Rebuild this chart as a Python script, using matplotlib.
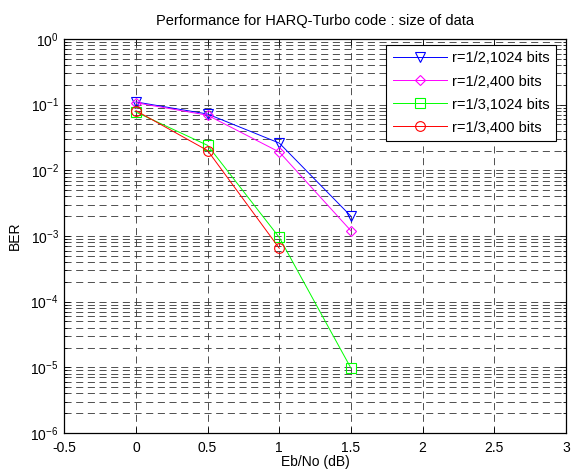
import math
import matplotlib
matplotlib.use("Agg")
import matplotlib.pyplot as plt
from matplotlib.ticker import LogLocator, NullFormatter, MultipleLocator, FuncFormatter

plt.rcParams['font.family'] = ['Liberation Sans', 'DejaVu Sans']
plt.rcParams['mathtext.fontset'] = 'custom'
plt.rcParams['mathtext.rm'] = 'Liberation Sans'
plt.rcParams['mathtext.it'] = 'Liberation Sans'

ebno = [0, 0.5, 1, 1.5]
ebno_red = [0, 0.5, 1]
ber_r12_1024 = [0.110, 0.072, 0.026, 0.0020]
ber_r12_400 = [0.107, 0.069, 0.019, 0.0012]
ber_r13_1024 = [0.077, 0.024, 0.00095, 0.0000097]
ber_r13_400 = [0.081, 0.020, 0.00065]
labels = ['r=1/2,1024 bits', 'r=1/2,400 bits', 'r=1/3,1024 bits', 'r=1/3,400 bits']

fig = plt.figure(figsize=(5.74, 4.71), dpi=100)
ax = fig.add_axes([0.112, 0.0807, 0.874, 0.8365])

kw = dict(linewidth=0.7, markersize=7, markerfacecolor='none', markeredgewidth=0.8)
ax.semilogy(ebno, ber_r12_1024, '-v', color=(0, 0, 1), label=labels[0], **kw)
ax.semilogy(ebno, ber_r12_400, '-D', color=(1, 0, 1), label=labels[1],
            linewidth=0.7, markersize=5.5, markerfacecolor='none', markeredgewidth=0.8)
ax.semilogy(ebno, ber_r13_1024, '-s', color=(0, 1, 0), label=labels[2], **kw)
ax.semilogy(ebno_red, ber_r13_400, '-o', color=(1, 0, 0), label=labels[3], **kw)

ax.set_xlim(-0.5, 3)
ax.set_ylim(1e-6, 1)
ax.xaxis.set_major_locator(MultipleLocator(0.5))
ax.xaxis.set_major_formatter(FuncFormatter(lambda v, p: ('%g' % v)))
ax.yaxis.set_major_locator(LogLocator(base=10, numticks=10))
ax.yaxis.set_major_formatter(FuncFormatter(lambda v, p: r'$10^{%d}$' % round(math.log10(v))))
ax.yaxis.set_minor_locator(LogLocator(base=10, subs=range(2, 10), numticks=20))
ax.yaxis.set_minor_formatter(NullFormatter())

gkw = dict(color='0.2', linestyle=(0, (8.5, 5.5)), linewidth=0.6)
ax.grid(True, which='major', axis='both', **gkw)
ax.grid(True, which='minor', axis='y', **gkw)
ax.set_axisbelow(True)

ax.tick_params(which='both', direction='in', top=True, right=True, labelsize=10, width=0.6)
ax.tick_params(axis='x', which='major', length=4, pad=6)
ax.tick_params(axis='y', which='major', length=4, pad=4)
ax.tick_params(which='minor', length=2)
for s in ax.spines.values():
    s.set_linewidth(0.9)

ax.set_title('Performance for HARQ-Turbo code : size of data', fontsize=10.5, pad=10)
ax.set_xlabel('Eb/No (dB)', fontsize=10, labelpad=0)
ax.set_ylabel('BER', fontsize=10, labelpad=6)

leg = ax.legend(loc='upper right', bbox_to_anchor=(0.98, 0.985), borderaxespad=0,
                fontsize=10.5, fancybox=False, framealpha=1, edgecolor='black',
                handlelength=3.7, labelspacing=0.62, borderpad=0.45, handletextpad=0.35)
leg.get_frame().set_linewidth(0.8)

fig.savefig('out.png', dpi=100)
